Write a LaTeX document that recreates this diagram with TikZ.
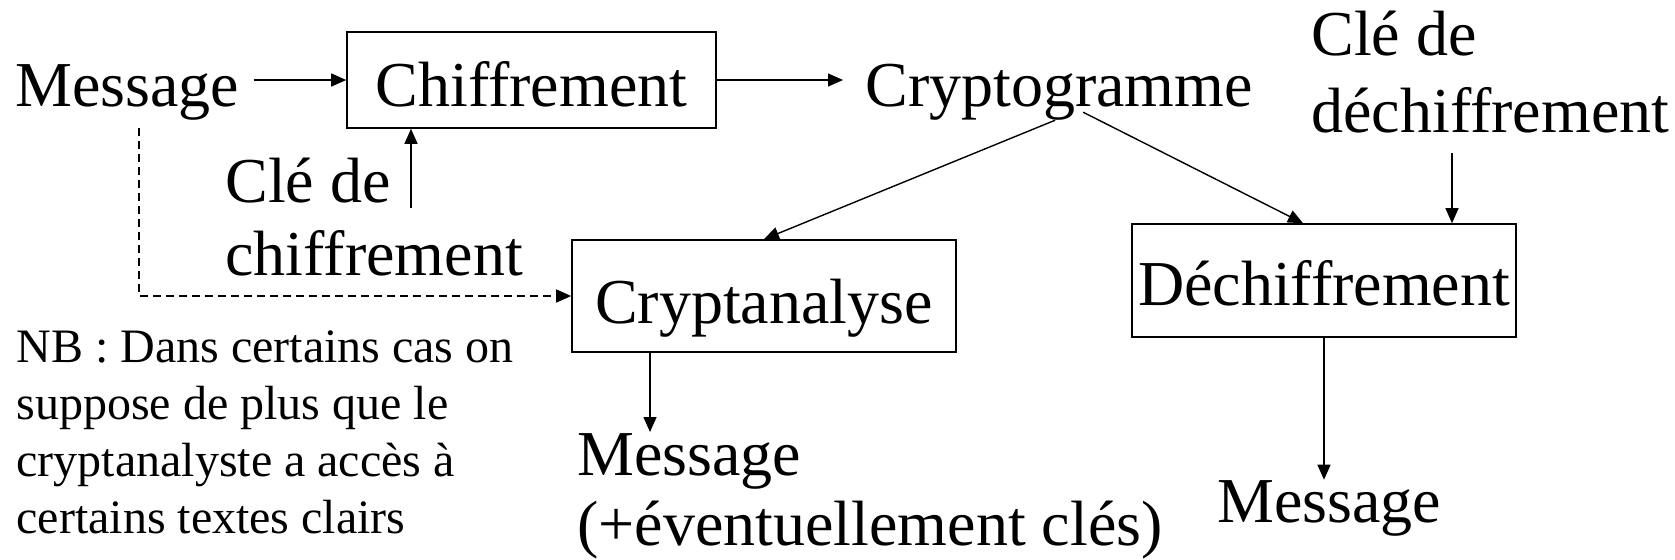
\documentclass[tikz,border=0pt]{standalone}
\usepackage{fontspec}
\setmainfont{Liberation Serif}
\usetikzlibrary{arrows.meta,calc}
\begin{document}
\begin{tikzpicture}[x=0.5pt,y=-0.5pt,
  txt/.style={inner sep=0pt,anchor=base west,font=\fontsize{32}{38}\selectfont},
  nbtxt/.style={inner sep=0pt,anchor=base west,font=\fontsize{24}{28}\selectfont},
  box/.style={draw,line width=0.8pt,inner sep=0pt,font=\fontsize{32}{38}\selectfont,text depth=0pt},
  arr/.style={line width=0.7pt,-{Triangle[length=7.5pt,width=6.5pt]}},
  dsh/.style={dash pattern=on 4pt off 2.5pt}
]
\useasboundingbox (0,0) rectangle (1675,559);

% boxes
\node[box,minimum width=184.5pt,minimum height=48pt,text height=26pt] (chif) at (531.5,80) {Chiffrement};
\node[box,minimum width=192pt,minimum height=56pt,text height=27pt] (cana) at (764,296) {Cryptanalyse};
\node[box,minimum width=192pt,minimum height=56.5pt,text height=24.5pt] (dech) at (1324,280.5) {Déchiffrement};

% texts
\node[txt] (msg1) at (15,106) {Message};
\node[txt] (crypto) at (865,106) {Cryptogramme};
\node[txt] (cle1a) at (225,202) {Clé de};
\node[txt] (cle1b) at (225,275) {chiffrement};
\node[txt] (cle2a) at (1311,55) {Clé de};
\node[txt] (cle2b) at (1311,132) {déchiffrement};
\node[txt] (msg2) at (577,475) {Message};
\node[txt] (msg2b) at (577,545) {(+éventuellement clés)};
\node[txt] (msg3) at (1217,522) {Message};
\node[nbtxt] (nb1) at (16,362) {NB : Dans certains cas on};
\node[nbtxt] (nb2) at (16,419) {suppose de plus que le};
\node[nbtxt] (nb3) at (16,476) {cryptanalyste a accès à};
\node[nbtxt] (nb4) at (16,533) {certains textes clairs};

% coordinates for free ends
\coordinate (k1) at (411,208);
\coordinate (k2) at (1452,153);
\coordinate (d0) at (139,128);
\coordinate (a3) at (650,432);

% connectors
\draw[arr] ($(msg1.east |- chif.west)+(7pt,0)$) -- (chif.west);
\draw[arr] (chif.east) -- ($(crypto.west |- chif.east)+(-11pt,0)$);
\draw[arr] (k1) -- (k1 |- chif.south);
\draw[arr,dsh] (d0) |- (cana.west);
\draw[arr] ([xshift=-2pt]crypto.south) -- (cana.north);
\draw[arr] ([xshift=12pt,yshift=4pt]crypto.south) -- ([xshift=-10.5pt]dech.north);
\draw[arr] (k2) -- (k2 |- dech.north);
\draw[arr] (a3 |- cana.south) -- (a3);
\draw[arr] (dech.south) -- (dech.south |- msg3.north);
\end{tikzpicture}
\end{document}
